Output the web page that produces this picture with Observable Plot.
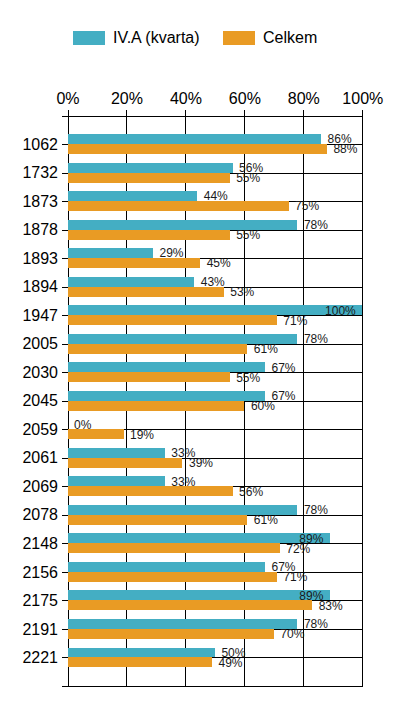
<!DOCTYPE html>
<html><head><meta charset="utf-8">
<script src="https://cdn.jsdelivr.net/npm/d3@7"></script>
<script src="https://cdn.jsdelivr.net/npm/@observablehq/plot@0.6"></script>
<style>
body{margin:0;background:#fff;font-family:"Liberation Sans",Arial,sans-serif;}
#legend{height:70px;position:relative;}
.item{position:absolute;top:29px;height:18px;display:flex;align-items:center;font-size:16px;color:#000;white-space:nowrap;}
.sw{width:32px;height:14px;margin-right:8px;}
svg{display:block;font-family:"Liberation Sans",Arial,sans-serif !important;}
svg text{font-family:"Liberation Sans",Arial,sans-serif;}
</style></head><body>
<div id="legend"></div><div id="chart"></div>
<script>
const categories = ["1062","1732","1873","1878","1893","1894","1947","2005","2030","2045","2059","2061","2069","2078","2148","2156","2175","2191","2221"];
const kvarta = [86,56,44,78,29,43,100,78,67,67,0,33,33,78,89,67,89,78,50];
const celkem = [88,55,75,55,45,53,71,61,55,60,19,39,56,61,72,71,83,70,49];
const seriesNames = ["IV.A (kvarta)","Celkem"];
const colors = ["#44aec3","#e99b24"];
const xTicks = [0,20,40,60,80,100];

// legend
const legend = document.getElementById("legend");
const legendLeft = [73,223];
seriesNames.forEach((n,i)=>{
  const it = document.createElement("div");
  it.className="item"; it.style.left=legendLeft[i]+"px";
  const sw=document.createElement("span"); sw.className="sw"; sw.style.background=colors[i];
  const t=document.createElement("span"); t.textContent=n;
  it.appendChild(sw); it.appendChild(t); legend.appendChild(it);
});

const rows = categories.map((c,i)=>({cat:c, a:kvarta[i], b:celkem[i]}));
const fmt = d => d + "%";
const inside = v => v >= 89;

function labels(key, dy) {
  return [
    Plot.text(rows.filter(d=>!inside(d[key])), {y:"cat", x:key, text:d=>fmt(d[key]), dy, dx:6, textAnchor:"start", fontSize:12, fill:"#1a1a1a"}),
    Plot.text(rows.filter(d=>inside(d[key])), {y:"cat", x:key, text:d=>fmt(d[key]), dy, dx:-7, textAnchor:"end", fontSize:12, fill:"#1a1a1a"})
  ];
}

const plot = Plot.plot({
  width:400, height:650,
  marginTop:45.5, marginBottom:34, marginLeft:67.5, marginRight:37.7,
  style:{fontFamily:"Liberation Sans, Arial, sans-serif", background:"white", color:"#000"},
  x:{domain:[0,100]},
  y:{domain:categories, paddingInner:0, paddingOuter:0.5, round:false},
  marks:[
    Plot.ruleX(xTicks, {stroke:"#000", shapeRendering:"crispEdges"}),
    Plot.ruleY(categories, {stroke:"#000", shapeRendering:"crispEdges"}),
    Plot.frame({anchor:"top", insetLeft:-6, stroke:"#000", shapeRendering:"crispEdges"}),
    Plot.frame({anchor:"bottom", insetLeft:-6, stroke:"#000", shapeRendering:"crispEdges"}),
    Plot.axisX({anchor:"top", ticks:xTicks, tickSize:7, tickPadding:5, tickFormat:fmt, fontSize:16, label:null, stroke:"#000", strokeOpacity:1, shapeRendering:"crispEdges"}),
    Plot.axisY({anchor:"left", tickSize:6, tickPadding:4, fontSize:16, label:null, stroke:"#000", strokeOpacity:1, shapeRendering:"crispEdges"}),
    Plot.barX(rows, {y:"cat", x:"a", fill:colors[0], insetTop:4.3, insetBottom:14.25, shapeRendering:"crispEdges"}),
    Plot.barX(rows, {y:"cat", x:"b", fill:colors[1], insetTop:14.25, insetBottom:4.3, shapeRendering:"crispEdges"}),
    ...labels("a", -5),
    ...labels("b", 5)
  ]
});
document.getElementById("chart").appendChild(plot);
</script></body></html>
